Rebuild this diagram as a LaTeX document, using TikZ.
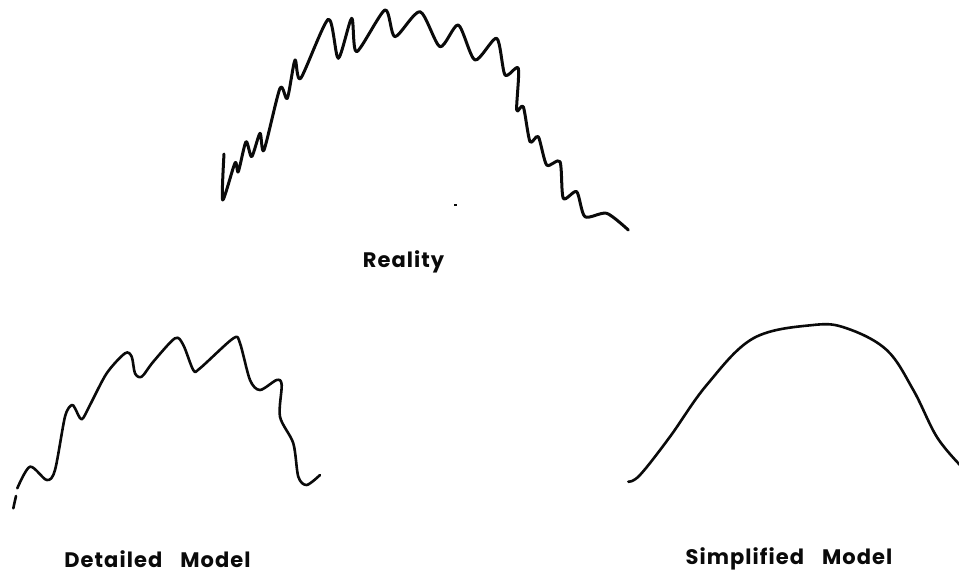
\documentclass[tikz,border=0pt]{standalone}
\usepackage{fontspec}
\newfontfamily\captionfont[LetterSpace=5]{Poppins}
\usetikzlibrary{positioning}
\definecolor{ink}{RGB}{10,10,10}
\tikzset{
  curve/.style={draw=ink,line width=#1,line cap=round,line join=round},
  curve/.default=2.6pt,
  tag/.style={font=\captionfont\bfseries\fontsize{21}{25}\selectfont,text=ink,anchor=base,inner sep=0pt},
}
\begin{document}
\begin{tikzpicture}[x=1pt,y=-1pt]
        \useasboundingbox (0,0) rectangle (959,575);
        % reality
        \draw[curve=3pt] plot[smooth,tension=0.45] coordinates {
          (224,154) (222.7,200) (235,163) (238.3,171.7) (246,141.7) (251.7,156.7)
          (260,133.3) (264,150) (280,88.3) (287.3,98.3) (295,60) (300.7,78.3)
          (328.3,19.3) (338.3,58.3) (351.7,18.3) (356.7,51.7) (385,10) (395,36.7)
          (420,11.7) (440,46.7) (458.3,25) (475,60) (496.7,38.3) (505,75)
          (518.3,68.3) (516.7,110) (523.3,106.7) (530,141.7) (538.3,136.7)
          (546.7,165) (560,161.7) (563.3,198.3) (576.7,191.7) (585,216.7)
          (606.7,213.3) (628.3,230)};
        \fill[ink] (454,204) rectangle (457,206);
        \node[tag] (reality) at (403.5,267) {Reality};
        % detailed model
        \draw[curve] (13.3,508.3) -- (16,496);
        \draw[curve] plot[smooth,tension=0.5] coordinates {
          (17.3,488.3) (30,466.7) (46.7,480) (55,470) (65,416.7) (71.7,405)
          (75,408.3) (81.7,419.3) (90,405) (106.7,373.3) (125,353.3) (131.7,356.7)
          (135,373.3) (141.7,376.7) (153.3,361.7) (175,338.3) (183.3,345)
          (193.3,370) (200,368.3) (233.3,338.3) (240,343.3) (250,380) (260,390)
          (276.7,380) (281.7,385) (280,416.7) (293.3,443.3) (298.3,476.7)
          (306.7,485) (320,475)};
        \node[tag] (detailed) at (157.5,567) {Detailed\hspace{0.6em} Model};
        % simplified model
        \draw[curve] plot[smooth,tension=0.6] coordinates {
          (628.3,481.7) (640,475) (670,436.7) (706.7,385) (753.3,338.3)
          (813.3,325) (846.7,328.3) (886.7,350) (913.3,390) (936.7,436.7)
          (960,465)};
        \node[tag] (simplified) at (789,564) {Simplified\hspace{0.6em} Model};
      \end{tikzpicture}
\end{document}
